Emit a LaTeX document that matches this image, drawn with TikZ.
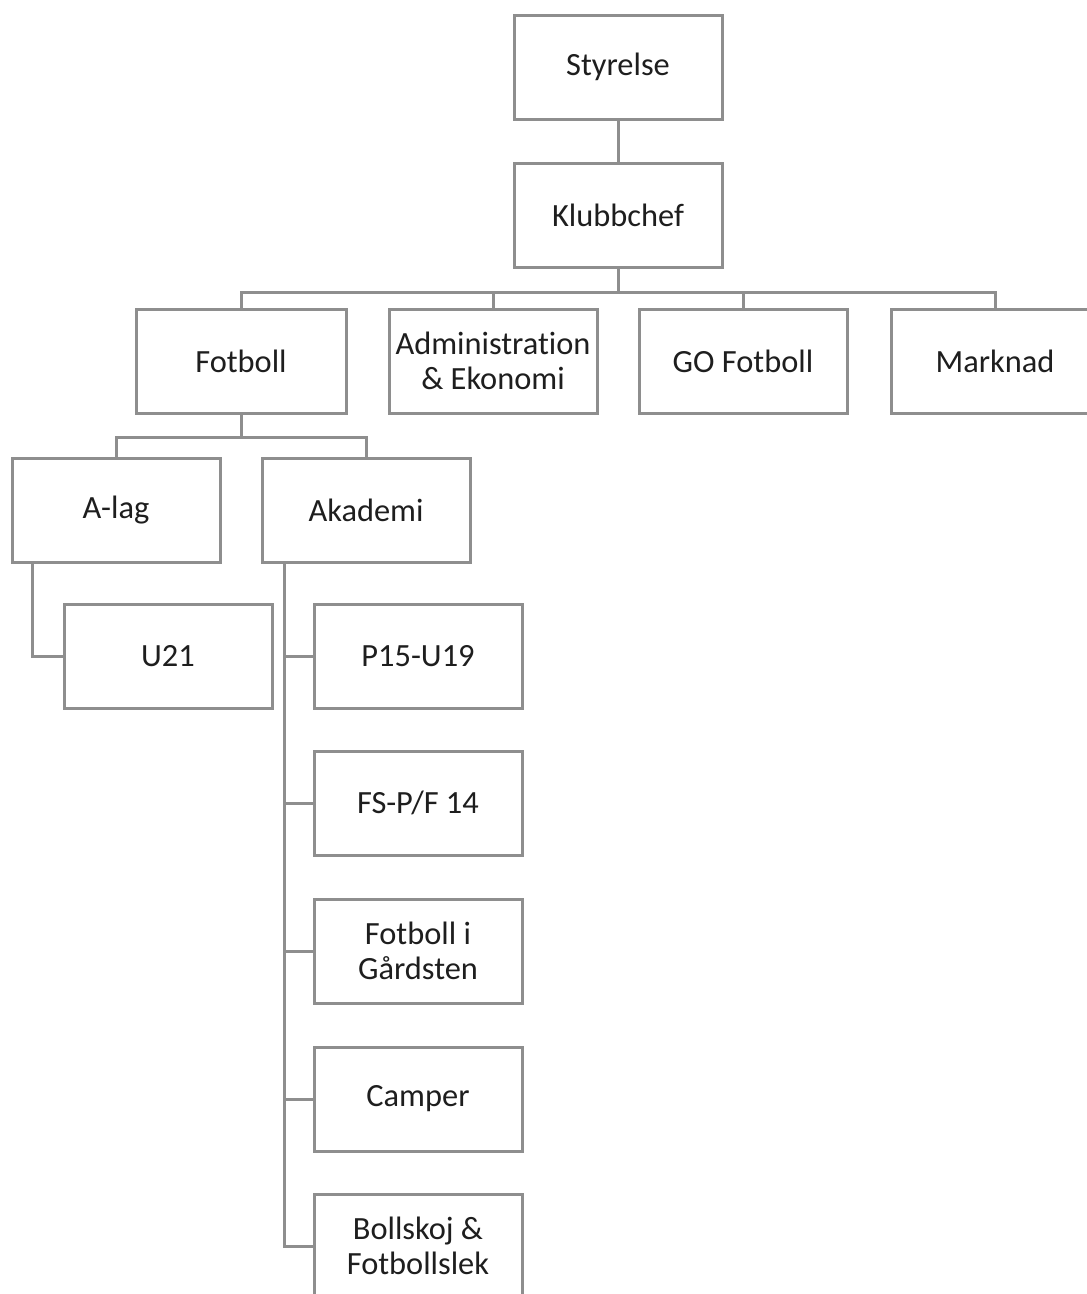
\documentclass[tikz,border=0pt]{standalone}
\usepackage{fontspec}
\setmainfont{Carlito}[Ligatures={NoCommon,NoContextual}]
\definecolor{linegray}{HTML}{8E8E8E}
\definecolor{txt}{HTML}{1E1E1E}
\begin{document}
\begin{tikzpicture}[x=1pt,y=-1pt,
  box/.style={draw=linegray,line width=3pt,fill=white,minimum width=208pt,minimum height=104pt,
    inner sep=0pt,align=center,text=txt,font=\fontsize{32.4}{35}\selectfont},
  conn/.style={draw=linegray,line width=3pt}]
\useasboundingbox (0,0) rectangle (1087,1294);
\clip (0,0) rectangle (1087,1294);
\node[box] (sty) at (618,67) {Styrelse};
\node[box] (kc) at (618,215) {Klubbchef};
\node[box,minimum width=210pt] (fot) at (241,361) {Fotboll};
\node[box] (adm) at (493,361) {Administrat\kern0pt ion\\\& Ekonomi};
\node[box] (go) at (743,361) {GO Fotboll};
\node[box] (mark) at (995,361) {Marknad};
\node[box] (alag) at (116,510) {A-lag};
\node[box] (akad) at (366,510) {Akademi};
\node[box] (u21) at (168,656) {U21};
\node[box] (p15) at (418,656) {P15-U19};
\node[box] (fs) at (418,803) {FS-P/F 14};
\node[box] (gard) at (418,951) {Fotboll i\\Gårdsten};
\node[box] (camp) at (418,1099) {Camper};
\node[box] (boll) at (418,1246) {Bollskoj \&\\Fotbollslek};
\draw[conn] (sty.south) -- (kc.north);
\foreach \c in {fot,adm,go,mark}
  \draw[conn] (kc.south) -- ++(0,24) -| (\c.north);
\foreach \c in {alag,akad}
  \draw[conn] (fot.south) -- ++(0,23) -| (\c.north);
\draw[conn] ([xshift=22pt]alag.south west) |- (u21.west);
\foreach \c in {p15,fs,gard,camp,boll}
  \draw[conn] ([xshift=24pt]akad.south west) |- (\c.west);
\end{tikzpicture}
\end{document}
